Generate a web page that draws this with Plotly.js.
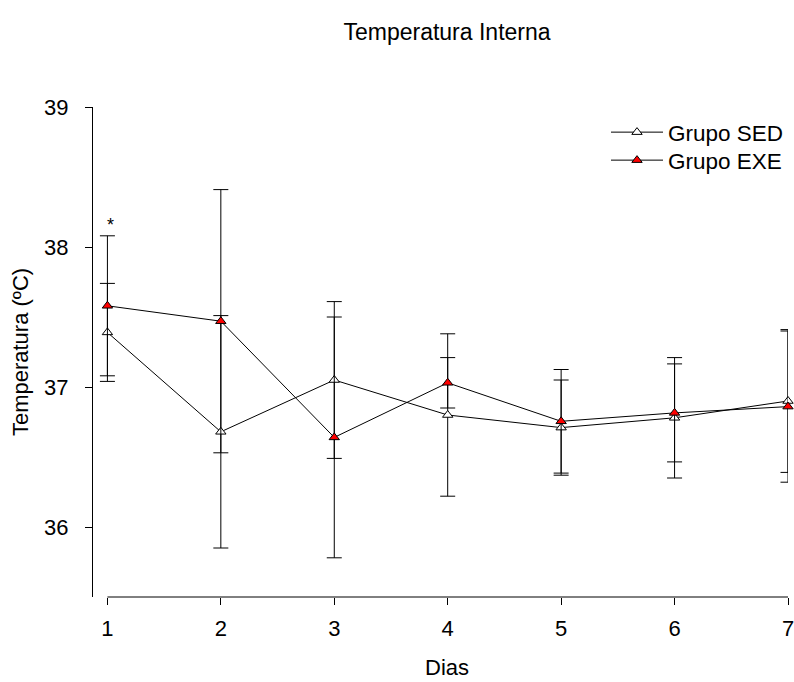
<!DOCTYPE html>
<html>
<head>
<meta charset="utf-8">
<script src="https://cdn.plot.ly/plotly-3.0.1.min.js"></script>
<style>html,body{margin:0;padding:0;background:#fff;}#chart{width:794px;height:682px;}</style>
</head>
<body>
<div id="chart"></div>
<script>
const days = [1, 2, 3, 4, 5, 6, 7];
const sedMean = [37.39, 36.68, 37.05, 36.80, 36.71, 36.78, 36.90];
const sedErr = [0.35, 0.83, 0.56, 0.58, 0.34, 0.43, 0.51];
const exeMean = [37.58, 37.47, 36.64, 37.03, 36.755, 36.815, 36.86];
const exeErr = [0.50, 0.94, 0.86, 0.18, 0.37, 0.35, 0.54];
const yTicks = [36, 37, 38, 39];
const sigDay = 1;
const sigLabel = '*';

const font = 'Arial, "Liberation Sans", sans-serif';
const fs = 22;

const errStyle = {type: 'data', visible: true, color: '#000', thickness: 1, width: 7.5};

const traces = [
  {
    x: days, y: sedMean, name: 'Grupo SED', type: 'scatter', mode: 'lines+markers',
    legend: 'legend',
    line: {color: '#000', width: 1},
    marker: {symbol: 'triangle-up', size: 9, color: '#fff', line: {color: '#000', width: 1}},
    error_y: Object.assign({array: sedErr}, errStyle),
    cliponaxis: false
  },
  {
    x: days, y: exeMean, name: 'Grupo EXE', type: 'scatter', mode: 'lines+markers',
    legend: 'legend2',
    line: {color: '#000', width: 1},
    marker: {symbol: 'triangle-up', size: 9, color: '#ff0000', line: {color: '#000', width: 1}},
    error_y: Object.assign({array: exeErr}, errStyle),
    cliponaxis: false
  }
];

const sigIdx = days.indexOf(sigDay);
const sigTop = Math.max(sedMean[sigIdx] + sedErr[sigIdx], exeMean[sigIdx] + exeErr[sigIdx]);

const L = 93, T = 107, W = 695, H = 490;
const legendBase = {
  xanchor: 'left', yanchor: 'top', bgcolor: 'rgba(0,0,0,0)', borderwidth: 0,
  font: {family: font, size: 22.5, color: '#000'}, itemwidth: 52
};

const layout = {
  width: 794, height: 682,
  paper_bgcolor: '#fff', plot_bgcolor: '#fff',
  margin: {l: L, r: 6, t: T, b: 85, autoexpand: false},
  font: {family: font, size: fs, color: '#000'},
  title: {text: 'Temperatura Interna', font: {family: font, size: 23, color: '#000'},
          x: 447 / 794, xanchor: 'center', xref: 'container', y: 1 - 32 / 682, yanchor: 'middle', yref: 'container'},
  xaxis: {
    range: [0.873, 7], tickvals: days, ticktext: days.map(String),
    ticks: 'outside', ticklen: 7, tickwidth: 1, tickcolor: '#000',
    showline: false, showgrid: false, zeroline: false,
    tickfont: {family: font, size: fs, color: '#000'},
    ticklabelstandoff: 5, ticklabeloverflow: 'allow', automargin: false
  },
  yaxis: {
    range: [35.5, 39], tickvals: yTicks, ticktext: yTicks.map(String),
    ticks: 'outside', ticklen: 7, tickwidth: 1, tickcolor: '#000',
    showline: true, linecolor: '#000', linewidth: 1,
    showgrid: false, zeroline: false, automargin: false,
    tickfont: {family: font, size: fs, color: '#000'},
    ticklabelstandoff: 12,
    title: {text: 'Temperatura (ºC)', font: {family: font, size: fs, color: '#000'}, standoff: 9}
  },
  shapes: [
    {type: 'line', xref: 'x', yref: 'paper', x0: days[0], x1: days[days.length - 1], y0: 0, y1: 0,
     line: {color: '#000', width: 1}}
  ],
  annotations: [
    {x: sigDay, y: sigTop, xref: 'x', yref: 'y', text: sigLabel, showarrow: false,
     xanchor: 'center', yanchor: 'bottom', yshift: -1, xshift: 3,
     font: {family: font, size: 18, color: '#000'}},
    {x: (447 - L) / W, y: -(667 - (T + H)) / H, xref: 'paper', yref: 'paper', text: 'Dias', showarrow: false,
     xanchor: 'center', yanchor: 'middle', font: {family: font, size: fs, color: '#000'}}
  ],
  showlegend: true,
  legend: Object.assign({x: (606 - L) / W, y: 1 - (111 - T) / H}, legendBase),
  legend2: Object.assign({x: (606 - L) / W, y: 1 - (139 - T) / H}, legendBase)
};

Plotly.newPlot('chart', traces, layout, {displayModeBar: false, staticPlot: true});
</script>
</body>
</html>
